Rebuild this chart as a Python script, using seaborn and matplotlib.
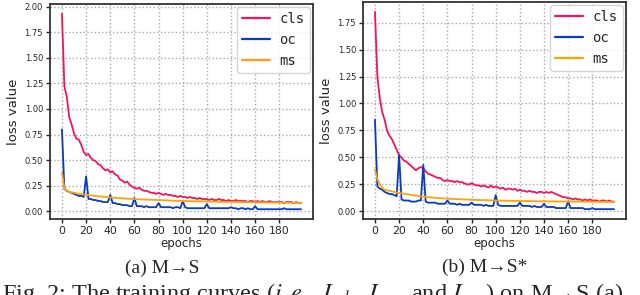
import numpy as np
import pandas as pd
import matplotlib
matplotlib.use("Agg")
import matplotlib.pyplot as plt
import seaborn as sns

### data (every 2nd epoch) ###
epochs = list(range(0, 200, 2))

cls_a = [1.93, 1.22, 1.12, 0.92, 0.85, 0.76, 0.71, 0.70, 0.65, 0.58,
         0.55, 0.56, 0.52, 0.50, 0.49, 0.46, 0.45, 0.42, 0.40, 0.41,
         0.38, 0.39, 0.36, 0.35, 0.31, 0.30, 0.28, 0.29, 0.26, 0.24,
         0.23, 0.22, 0.23, 0.21, 0.20, 0.20, 0.19, 0.18, 0.18, 0.17,
         0.18, 0.17, 0.16, 0.17, 0.16, 0.16, 0.15, 0.15, 0.14, 0.15,
         0.14, 0.14, 0.13, 0.14, 0.13, 0.13, 0.12, 0.13, 0.12, 0.12,
         0.12, 0.11, 0.12, 0.11, 0.11, 0.12, 0.11, 0.11, 0.10, 0.11,
         0.10, 0.10, 0.11, 0.10, 0.10, 0.10, 0.10, 0.09, 0.10, 0.10,
         0.09, 0.10, 0.09, 0.10, 0.09, 0.09, 0.10, 0.09, 0.09, 0.09,
         0.09, 0.09, 0.08, 0.09, 0.09, 0.09, 0.08, 0.09, 0.08, 0.08]
oc_a = [0.80, 0.22, 0.20, 0.19, 0.18, 0.17, 0.16, 0.15, 0.15, 0.14,
        0.34, 0.12, 0.12, 0.11, 0.11, 0.10, 0.10, 0.09, 0.09, 0.09,
        0.16, 0.08, 0.08, 0.07, 0.07, 0.06, 0.06, 0.06, 0.05, 0.05,
        0.13, 0.05, 0.05, 0.05, 0.04, 0.05, 0.04, 0.04, 0.04, 0.04,
        0.08, 0.04, 0.04, 0.04, 0.04, 0.04, 0.03, 0.04, 0.04, 0.03,
        0.10, 0.04, 0.03, 0.03, 0.03, 0.03, 0.03, 0.03, 0.03, 0.03,
        0.07, 0.03, 0.03, 0.03, 0.03, 0.03, 0.03, 0.03, 0.03, 0.03,
        0.04, 0.03, 0.03, 0.02, 0.03, 0.03, 0.02, 0.03, 0.02, 0.02,
        0.05, 0.02, 0.02, 0.02, 0.02, 0.02, 0.02, 0.02, 0.02, 0.02,
        0.02, 0.02, 0.03, 0.02, 0.02, 0.02, 0.02, 0.02, 0.02, 0.02]
ms_a = [0.38, 0.22, 0.20, 0.19, 0.185, 0.18, 0.175, 0.17, 0.168, 0.165,
        0.162, 0.158, 0.155, 0.152, 0.15, 0.147, 0.145, 0.142, 0.14, 0.138,
        0.135, 0.133, 0.131, 0.13, 0.128, 0.126, 0.125, 0.123, 0.122, 0.121,
        0.12, 0.118, 0.117, 0.116, 0.115, 0.114, 0.113, 0.112, 0.111, 0.11,
        0.11, 0.109, 0.108, 0.107, 0.106, 0.105, 0.104, 0.103, 0.102, 0.101,
        0.10, 0.10, 0.099, 0.099, 0.098, 0.098, 0.097, 0.097, 0.096, 0.096,
        0.095, 0.095, 0.094, 0.094, 0.093, 0.093, 0.092, 0.092, 0.092, 0.091,
        0.091, 0.09, 0.09, 0.09, 0.09, 0.089, 0.089, 0.089, 0.088, 0.088,
        0.088, 0.087, 0.087, 0.087, 0.086, 0.086, 0.086, 0.085, 0.085, 0.085,
        0.085, 0.084, 0.084, 0.083, 0.083, 0.083, 0.082, 0.082, 0.081, 0.08]

cls_b = [1.85, 1.25, 1.05, 0.92, 0.85, 0.75, 0.70, 0.67, 0.62, 0.57,
         0.52, 0.50, 0.47, 0.46, 0.44, 0.42, 0.40, 0.38, 0.40, 0.41,
         0.40, 0.37, 0.35, 0.34, 0.33, 0.32, 0.31, 0.31, 0.29, 0.28,
         0.29, 0.28, 0.28, 0.27, 0.28, 0.27, 0.27, 0.26, 0.25, 0.25,
         0.26, 0.25, 0.24, 0.24, 0.23, 0.24, 0.23, 0.22, 0.24, 0.22,
         0.23, 0.22, 0.21, 0.22, 0.20, 0.21, 0.21, 0.20, 0.21, 0.19,
         0.20, 0.19, 0.19, 0.18, 0.19, 0.18, 0.18, 0.17, 0.18, 0.18,
         0.17, 0.18, 0.17, 0.18, 0.17, 0.16, 0.15, 0.14, 0.13, 0.13,
         0.12, 0.12, 0.11, 0.12, 0.11, 0.11, 0.10, 0.11, 0.10, 0.11,
         0.10, 0.10, 0.10, 0.09, 0.10, 0.10, 0.09, 0.10, 0.09, 0.09]
oc_b = [0.85, 0.23, 0.21, 0.20, 0.18, 0.17, 0.16, 0.16, 0.15, 0.14,
        0.52, 0.11, 0.10, 0.10, 0.10, 0.09, 0.09, 0.09, 0.10, 0.10,
        0.43, 0.09, 0.08, 0.08, 0.08, 0.08, 0.07, 0.07, 0.07, 0.07,
        0.10, 0.07, 0.07, 0.07, 0.06, 0.07, 0.06, 0.06, 0.06, 0.06,
        0.08, 0.06, 0.06, 0.06, 0.06, 0.05, 0.06, 0.05, 0.05, 0.05,
        0.15, 0.06, 0.05, 0.05, 0.05, 0.05, 0.05, 0.05, 0.05, 0.05,
        0.08, 0.05, 0.05, 0.05, 0.05, 0.04, 0.05, 0.04, 0.04, 0.04,
        0.07, 0.04, 0.04, 0.04, 0.04, 0.03, 0.03, 0.03, 0.03, 0.03,
        0.09, 0.03, 0.03, 0.03, 0.03, 0.03, 0.03, 0.02, 0.02, 0.02,
        0.03, 0.02, 0.02, 0.02, 0.02, 0.02, 0.02, 0.02, 0.02, 0.02]
ms_b = [0.39, 0.30, 0.25, 0.22, 0.20, 0.195, 0.19, 0.185, 0.18, 0.175,
        0.17, 0.166, 0.162, 0.158, 0.155, 0.152, 0.148, 0.145, 0.142, 0.139,
        0.136, 0.133, 0.131, 0.129, 0.127, 0.125, 0.123, 0.121, 0.12, 0.119,
        0.118, 0.116, 0.115, 0.114, 0.113, 0.112, 0.111, 0.11, 0.109, 0.108,
        0.107, 0.106, 0.105, 0.104, 0.104, 0.103, 0.103, 0.102, 0.101, 0.101,
        0.10, 0.10, 0.099, 0.099, 0.098, 0.098, 0.097, 0.097, 0.096, 0.096,
        0.096, 0.095, 0.095, 0.095, 0.094, 0.094, 0.094, 0.093, 0.093, 0.093,
        0.093, 0.092, 0.092, 0.092, 0.092, 0.091, 0.091, 0.091, 0.091, 0.09,
        0.09, 0.09, 0.09, 0.09, 0.09, 0.09, 0.089, 0.089, 0.089, 0.089,
        0.089, 0.088, 0.088, 0.088, 0.088, 0.088, 0.088, 0.087, 0.087, 0.087]

series_names = ['cls', 'oc', 'ms']
colors = ['#f2155b', '#0a3bbf', '#ffa20a']
xtick_values = list(range(0, 200, 20))
panel_titles = ['(a) M→S', '(b) M→S*']
fig_caption = (r'Fig. 2: The training curves ($i.e.$, $L_{cls}$, $L_{oc}$, '
               r'and $L_{ms}$) on M→S (a)')

### plot ###
sns.set_style("white")
plt.rcParams['font.family'] = ['DejaVu Sans']
plt.rcParams['mathtext.fontset'] = 'stix'

fig = plt.figure(figsize=(6.4, 2.95), dpi=100)
ax_a = fig.add_axes([50 / 640, 76 / 295, 263 / 640, 215 / 295])
ax_b = fig.add_axes([363 / 640, 76 / 295, 263 / 640, 217 / 295])

panels = [(ax_a, [cls_a, oc_a, ms_a]), (ax_b, [cls_b, oc_b, ms_b])]
for i, (ax, vals) in enumerate(panels):
    df = pd.DataFrame({'epoch': epochs * 3,
                       'loss': vals[0] + vals[1] + vals[2],
                       'name': sum([[n] * len(epochs) for n in series_names], [])})
    sns.lineplot(data=df, x='epoch', y='loss', hue='name', palette=colors,
                 linewidth=1.3, ax=ax)
    ax.set_xticks(xtick_values)
    ax.tick_params(axis='x', labelsize=7.8, length=3, width=1, direction='out',
                   bottom=True, pad=2)
    ax.tick_params(axis='y', labelsize=6, length=3, width=1, direction='out',
                   left=True, pad=2)
    ax.grid(True, linestyle=':', color='#aaaaaa', linewidth=1)
    for sp in ax.spines.values():
        sp.set_color('#333333')
        sp.set_linewidth(1.3)
    ax.set_xlabel('epochs', fontsize=8.5, labelpad=1)
    ax.set_ylabel('loss value', fontsize=9.5, labelpad=3)
    leg = ax.legend(loc='upper right', prop={'family': 'DejaVu Sans Mono', 'size': 10},
                    handlelength=2.0, borderpad=0.35, labelspacing=0.5,
                    handletextpad=0.7, borderaxespad=0.25)
    for line in leg.get_lines():
        line.set_linewidth(1.6)

fig.text(162 / 640, 1 - 268 / 295, panel_titles[0], family='Liberation Serif',
         fontsize=14, ha='center', va='center')
fig.text(485 / 640, 1 - 267 / 295, panel_titles[1], family='Liberation Serif',
         fontsize=14, ha='center', va='center')
fig.text(2 / 640, 1 - 281 / 295, fig_caption, family='Liberation Serif',
         fontsize=17.5, ha='left', va='top')

fig.savefig('out.png', dpi=100)
